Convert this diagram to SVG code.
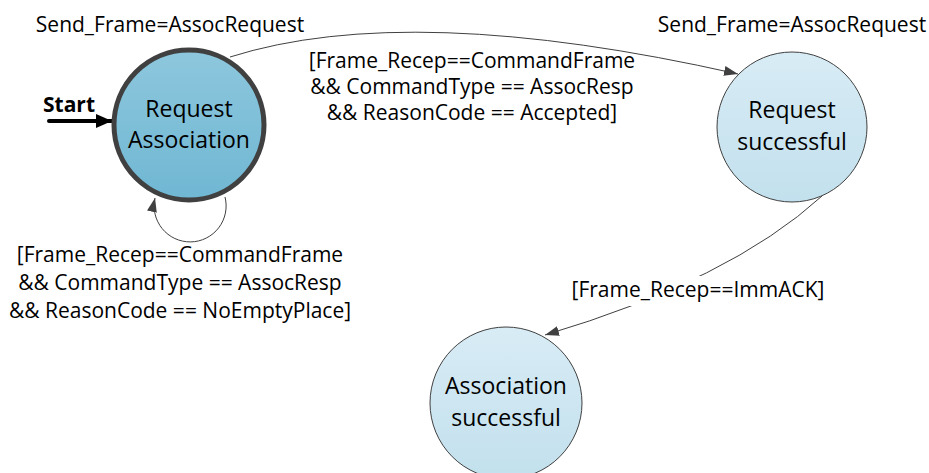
<svg xmlns="http://www.w3.org/2000/svg" width="929" height="473" viewBox="0 0 929 473">
<style>
  .lbl { font-family: "Open Sans", "Noto Sans", sans-serif; font-size: 21px; fill: #000; text-anchor: middle; }
  .nodeText { font-family: "Open Sans", "Noto Sans", sans-serif; font-size: 23px; fill: #000; text-anchor: middle; }
  .conn { fill: none; stroke: #404040; stroke-width: 1; }
  .light { fill: url(#gLight); stroke: #404040; stroke-width: 1; }
</style>
<defs>
  <linearGradient id="gDark" x1="0" y1="0" x2="0" y2="1">
    <stop offset="0" stop-color="#8dc7dd"/>
    <stop offset="1" stop-color="#70b7d3"/>
  </linearGradient>
  <linearGradient id="gLight" x1="0" y1="0" x2="0" y2="1">
    <stop offset="0" stop-color="#d8ecf5"/>
    <stop offset="1" stop-color="#c2e0ed"/>
  </linearGradient>
  <marker id="arr" markerWidth="14" markerHeight="10" refX="14" refY="5" orient="auto" markerUnits="userSpaceOnUse">
    <path d="M0,0 L14,5 L0,10 Z" fill="#404040"/>
  </marker>
  <marker id="arrStart" markerWidth="16" markerHeight="14" refX="16" refY="7" orient="auto" markerUnits="userSpaceOnUse">
    <path d="M0,0 L16,7 L0,14 Z" fill="#000"/>
  </marker>
</defs>
<rect width="929" height="473" fill="#fff"/>

<g id="connectors">
  <path class="conn" d="M230,57 Q410,0 738,74" marker-end="url(#arr)"/>
  <path class="conn" d="M225,197 A36,36 0 1 1 155,198" marker-end="url(#arr)"/>
  <path class="conn" d="M822,196 Q730,280 545,335" marker-end="url(#arr)"/>
  <path d="M49,121 L112,121" stroke="#000" stroke-width="4" fill="none" stroke-linecap="round" marker-end="url(#arrStart)"/>
</g>

<g id="node-request-association">
  <circle cx="189" cy="125" r="75" fill="url(#gDark)" stroke="#404040" stroke-width="5"/>
  <text class="nodeText" x="189" y="117">Request</text>
  <text class="nodeText" x="189" y="148">Association</text>
</g>

<g id="node-request-successful">
  <circle class="light" cx="792" cy="127" r="75"/>
  <text class="nodeText" x="792" y="118">Request</text>
  <text class="nodeText" x="792" y="150">successful</text>
</g>

<g id="node-association-successful">
  <circle class="light" cx="506" cy="403" r="76"/>
  <text class="nodeText" x="506" y="394">Association</text>
  <text class="nodeText" x="506" y="426">successful</text>
</g>

<g id="labels">
  <text class="lbl" x="170" y="32">Send_Frame=AssocRequest</text>
  <text class="lbl" x="792" y="32">Send_Frame=AssocRequest</text>
  <text class="lbl" x="472" y="68">[Frame_Recep==CommandFrame</text>
  <text class="lbl" x="472" y="94">&amp;&amp; CommandType == AssocResp</text>
  <text class="lbl" x="472" y="120">&amp;&amp; ReasonCode == Accepted]</text>
  <text class="lbl" x="180" y="262">[Frame_Recep==CommandFrame</text>
  <text class="lbl" x="180" y="290">&amp;&amp; CommandType == AssocResp</text>
  <text class="lbl" x="180" y="318">&amp;&amp; ReasonCode == NoEmptyPlace]</text>
  <rect x="568" y="276" width="262" height="30" fill="#fff"/>
  <text class="lbl" x="698" y="297">[Frame_Recep==ImmACK]</text>
  <text x="43" y="112" font-family="Open Sans, Noto Sans, sans-serif" font-weight="bold" font-size="21px" fill="#000">Start</text>
</g>
</svg>
